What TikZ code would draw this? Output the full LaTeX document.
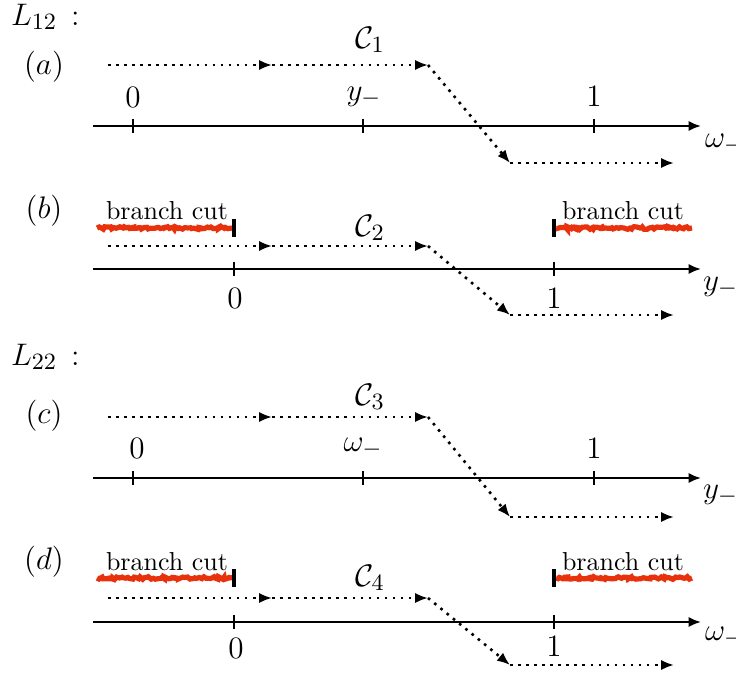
\documentclass[tikz,border=0pt]{standalone}
\usepackage{amsmath}
\usetikzlibrary{arrows.meta,decorations.pathmorphing}
\definecolor{CutRed}{HTML}{E8320E}

\begin{document}
\begin{tikzpicture}[x=0.01353cm,y=-0.01353cm,
    axisline/.style={-{Latex[length=4.8pt,width=4pt]},line width=0.9pt},
    contour/.style={-{Latex[length=5pt,width=4pt]},line width=1pt,
      dash pattern=on 1pt off 2.1pt},
    tickmark/.style={line width=0.9pt},
    cutbar/.style={line width=1.4pt},
    cutline/.style={CutRed,line width=2pt,decorate,
      decoration={random steps,segment length=0.8pt,amplitude=0.5pt}},
    lbl/.style={font=\fontsize{13}{15}\selectfont},
    cuttext/.style={font=\normalsize}]
  \useasboundingbox (0,0) rectangle (736,678);

  % ---- L_12 ----
  \node[lbl,anchor=west] (L12) at (2,17) {$L_{12}\,:$};

  % (a)
  \node[lbl] (pa) at (44,67) {$(a)$};
  \coordinate (a0) at (108,65);
  \coordinate (a1) at (272,65);
  \coordinate (a2) at (428,65);
  \coordinate (a3) at (510,163);
  \coordinate (a4) at (674,163);
  \draw[contour] (a0) -- (a1);
  \draw[contour] (a1) -- (a2);
  \draw[contour] (a2) -- (a3);
  \draw[contour] (a3) -- (a4);
  \node[lbl] (Ca) at (370,40) {$\mathcal{C}_1$};
  \coordinate (axa0) at (93,126);
  \coordinate (axa1) at (701,126);
  \draw[axisline] (axa0) -- (axa1);
  \foreach \x in {133,363,594}
    \draw[tickmark] (\x,119) -- (\x,133);
  \node[lbl] (a0lab) at (133,97) {$0$};
  \node[lbl] (aylab) at (364,97) {$y_-$};
  \node[lbl] (a1lab) at (594,96) {$1$};
  \node[lbl,anchor=west] (avar) at (696,144) {$\omega_-$};

  % (b)
  \node[lbl] (pb) at (44,211) {$(b)$};
  \draw[cutline] (97,228) -- (233,228);
  \draw[cutline] (556,228) -- (692,228);
  \draw[cutbar] (234,219) -- (234,237);
  \draw[cutbar] (554,219) -- (554,237);
  \node[cuttext] (bcut1) at (167,211) {branch cut};
  \node[cuttext] (bcut2) at (623,211) {branch cut};
  \coordinate (b0) at (108,246);
  \coordinate (b1) at (272,246);
  \coordinate (b2) at (428,246);
  \coordinate (b3) at (510,315);
  \coordinate (b4) at (674,315);
  \draw[contour] (b0) -- (b1);
  \draw[contour] (b1) -- (b2);
  \draw[contour] (b2) -- (b3);
  \draw[contour] (b3) -- (b4);
  \node[lbl] (Cb) at (370,228) {$\mathcal{C}_2$};
  \coordinate (axb0) at (93,269);
  \coordinate (axb1) at (701,269);
  \draw[axisline] (axb0) -- (axb1);
  \foreach \x in {234,554}
    \draw[tickmark] (\x,262) -- (\x,276);
  \node[lbl] (b0lab) at (235,298) {$0$};
  \node[lbl] (b1lab) at (554,298) {$1$};
  \node[lbl,anchor=west] (bvar) at (694,287) {$y_-$};

  % ---- L_22 ----
  \node[lbl,anchor=west] (L22) at (2,357) {$L_{22}\,:$};

  % (c)
  \node[lbl] (pc) at (44,416) {$(c)$};
  \coordinate (c0) at (108,417);
  \coordinate (c1) at (272,417);
  \coordinate (c2) at (428,417);
  \coordinate (c3) at (510,517);
  \coordinate (c4) at (674,517);
  \draw[contour] (c0) -- (c1);
  \draw[contour] (c1) -- (c2);
  \draw[contour] (c2) -- (c3);
  \draw[contour] (c3) -- (c4);
  \node[lbl] (Cc) at (370,397) {$\mathcal{C}_3$};
  \coordinate (axc0) at (93,478);
  \coordinate (axc1) at (701,478);
  \draw[axisline] (axc0) -- (axc1);
  \foreach \x in {133,363,594}
    \draw[tickmark] (\x,471) -- (\x,485);
  \node[lbl] (c0lab) at (137,448) {$0$};
  \node[lbl] (cwlab) at (363,448) {$\omega_-$};
  \node[lbl] (c1lab) at (594,448) {$1$};
  \node[lbl,anchor=west] (cvar) at (694,495) {$y_-$};

  % (d)
  \node[lbl] (pd) at (44,562) {$(d)$};
  \draw[cutline] (97,578) -- (233,578);
  \draw[cutline] (556,578) -- (692,578);
  \draw[cutbar] (234,569) -- (234,587);
  \draw[cutbar] (554,569) -- (554,587);
  \node[cuttext] (dcut1) at (167,562) {branch cut};
  \node[cuttext] (dcut2) at (623,562) {branch cut};
  \coordinate (d0) at (108,598);
  \coordinate (d1) at (272,598);
  \coordinate (d2) at (428,598);
  \coordinate (d3) at (510,665);
  \coordinate (d4) at (674,665);
  \draw[contour] (d0) -- (d1);
  \draw[contour] (d1) -- (d2);
  \draw[contour] (d2) -- (d3);
  \draw[contour] (d3) -- (d4);
  \node[lbl] (Cd) at (370,578) {$\mathcal{C}_4$};
  \coordinate (axd0) at (93,622);
  \coordinate (axd1) at (701,622);
  \draw[axisline] (axd0) -- (axd1);
  \foreach \x in {234,554}
    \draw[tickmark] (\x,615) -- (\x,629);
  \node[lbl] (d0lab) at (236,648) {$0$};
  \node[lbl] (d1lab) at (554,646) {$1$};
  \node[lbl,anchor=west] (dvar) at (696,637) {$\omega_-$};
\end{tikzpicture}
\end{document}
